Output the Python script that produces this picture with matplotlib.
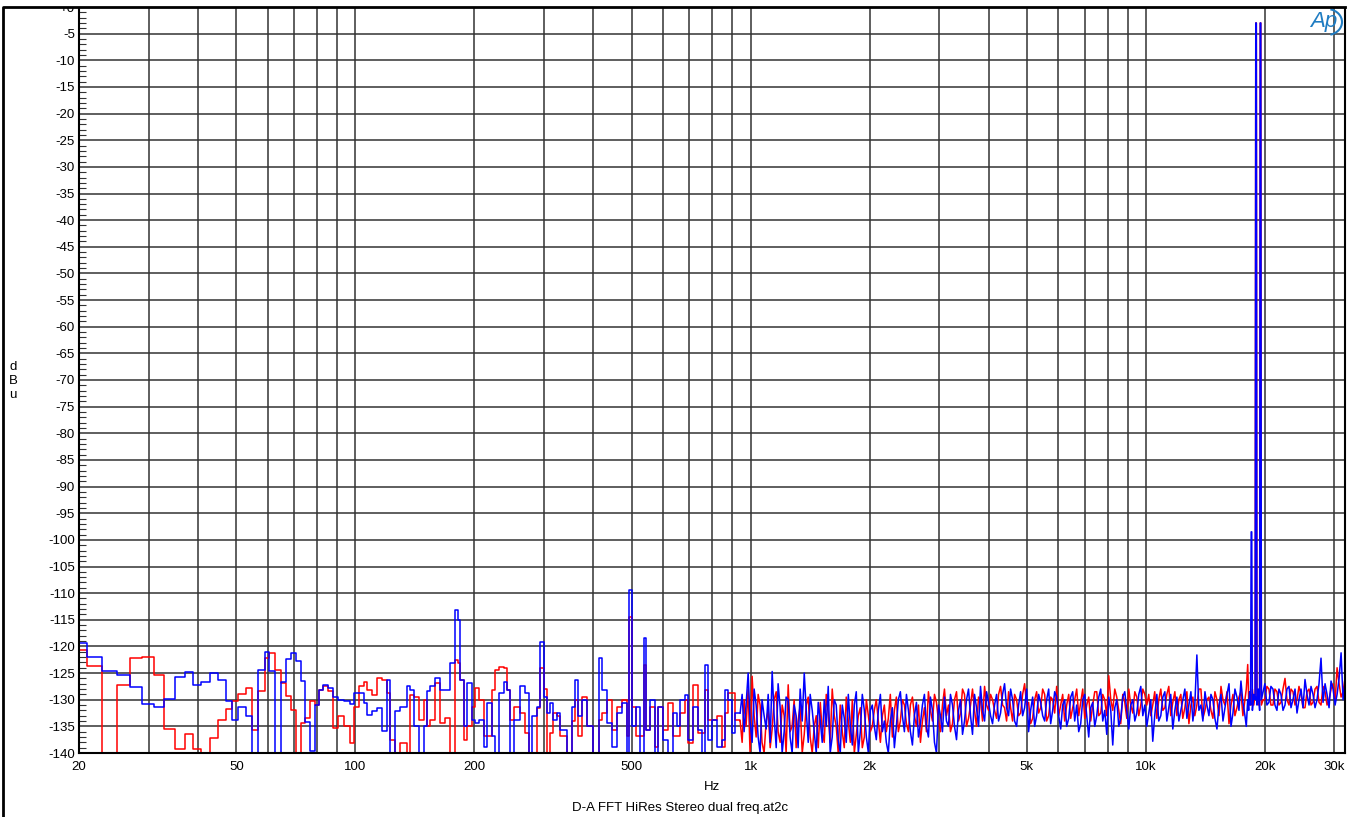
import numpy as np
import matplotlib
matplotlib.use("Agg")
import matplotlib.pyplot as plt
from matplotlib.patches import Rectangle, Arc
from matplotlib.lines import Line2D
from matplotlib.transforms import IdentityTransform
from matplotlib.ticker import FixedLocator, NullFormatter, MultipleLocator

plt.rcParams["font.family"] = ["Liberation Sans", "DejaVu Sans"]

# ------------------------------------------------------------
# Data: FFT spectrum, both channels share the same bins
# ------------------------------------------------------------

# Low band, drawn as steps (start of each bin, last value = end)
freq_lo = [
    20, 20.9, 22.9, 24.9, 26.9, 28.8, 30.9, 32.9, 34.9, 37.0, 38.8, 40.8,
    42.8, 44.9, 47.2, 48.7, 50.5, 53.0, 54.9, 56.7, 59.0, 60.4, 62.6, 65.0,
    66.6, 68.9, 70.9, 73.0, 74.8, 76.6, 78.9, 80.9, 82.8, 85.3, 87.8, 90.4,
    93.9,
    97.1, 99.0, 102.0, 105.0, 107.0, 110.2, 113.4, 116.8, 120.2, 122.6,
    126.2, 130.0, 135.1, 137.7, 140.4, 144.6, 148.9, 151.8, 154.7, 159.3,
    164.0, 168.9, 173.9, 179.0, 181.5, 184.3, 187.9, 191.6, 197.2, 201.1,
    205.0, 211.1, 215.2, 221.6, 226.0, 230.4, 237.2, 241.8, 246.6, 251.4,
    261.4, 269.1, 274.4, 279.8, 288.0, 293.6, 300.5, 305.2, 311.2, 317.2,
    323.5, 329.8, 342.9, 353.1, 360.0, 365.0, 374.3, 385.3, 400.5, 412.4,
    420.5, 432.9, 445.7, 458.8, 472.4, 486.3, 493.9, 501.6, 513.4, 525.5,
    537.9, 544.2, 557.0, 573.5, 584.7, 602.0, 619.8, 638.1, 650.6, 663.4,
    683.0, 696.4, 716.9, 738.1, 752.6, 767.3, 782.4, 797.7, 821.3, 845.5,
    862.1, 879.0, 896.3, 913.8, 941,
]

blue_lo = [
    -119.3, -121.9, -124.7, -125.3, -127.7, -130.8, -131.3, -129.8, -125.8,
    -124.8, -127.2, -126.6, -125.0, -126.3, -130.3, -133.8, -131.3, -133.1,
    -140, -124.4, -121.1, -124.7, -140, -126.6, -122.4, -121.3, -122.8,
    -126.4, -134.1, -139.7, -130.9, -128.1, -127.2, -127.8, -129.4, -130.0,
    -130.3,
    -130.8, -128.8, -128.8, -130.6, -132.8, -132.2, -131.6, -135.9, -126.3,
    -140, -132.2, -131.3, -127.5, -128.1, -135, -140, -135, -128.4, -127.5,
    -125.9, -128.1, -128.1, -123.1, -113.1, -115, -126.3, -135, -126.9,
    -133.8, -134.4, -133.8, -138.8, -130.6, -136.9, -140, -128.8, -126.6,
    -128.1, -140, -133.8, -127.5, -128.8, -140, -133.1, -131.3, -119.2,
    -129.4, -132.5, -130.6, -133.8, -132.5, -135.6, -140, -131.3, -126.3,
    -133.1, -130, -135, -140, -122.2, -128.1, -134.4, -138.8, -132.5,
    -130.6, -140, -109.4, -135, -131.3, -140, -118.4, -135.6, -130, -140,
    -131.3, -137.5, -140, -132.5, -135, -130, -129.1, -137.5, -131.3,
    -135.6, -140, -123.4, -137.5, -133.8, -138.8, -137.5, -128.1, -130,
    -136.3, -132.5, -132.5,
]

red_lo = [
    -120.6, -123.6, -140, -127.2, -122.2, -121.9, -125.3, -135.5, -139.3,
    -136.4, -139.3, -140, -137.2, -133.8, -131.8, -130.3, -128.9, -127.8,
    -135.6, -128.3, -122.2, -121.3, -124.4, -126.9, -129.3, -132.0, -140,
    -134.4, -133.4, -130.3, -130.9, -128.1, -127.5, -128.4, -135.3, -133.1,
    -135.0,
    -138.1, -131.3, -127.5, -126.6, -128.1, -129.1, -125.9, -126.3, -128.8,
    -137.5, -140, -138.1, -140, -129.1, -129.4, -133.8, -130, -135, -133.8,
    -126.9, -134.4, -133.5, -140, -122.5, -123.1, -126.3, -137.5, -135,
    -131.3, -127.8, -130, -136.9, -136.9, -128.1, -124.4, -123.8, -124.1,
    -128.1, -133.8, -131.3, -132.5, -136.3, -140, -140, -131.6, -124,
    -128, -140, -136.3, -132.5, -133.1, -136.9, -140, -134, -130, -136.9,
    -129.4, -135, -140, -133.8, -132.5, -130, -135.6, -131.3, -130,
    -136.9, -114.4, -131.3, -136.9, -136.9, -123.4, -135.6, -131.3, -138.8,
    -131.3, -135.6, -130.6, -136.9, -136.9, -132.5, -130, -138.1, -127.2,
    -136.3, -136.3, -128.1, -133.8, -133.8, -133.1, -138.8, -132.5, -128.8,
    -128.8, -133.8, -134,
]

# High band, drawn as lines
freq_hi = [
    # 1k - 2k
    941, 952, 963, 974, 986, 997, 1009, 1021, 1033, 1045, 1057, 1069, 1082,
    1095, 1108, 1121, 1134, 1147, 1161, 1174, 1188, 1202, 1216, 1230, 1245,
    1259, 1274, 1289, 1304, 1319, 1335, 1351, 1367, 1383, 1399, 1415, 1432,
    1449, 1466, 1483, 1501, 1518, 1536, 1554, 1572, 1590, 1609, 1628, 1647,
    1666, 1686, 1706, 1726, 1746, 1767, 1788, 1809, 1830, 1851, 1873, 1895,
    1917, 1940, 1963, 1986, 2009,
    # 2k - 4k
    2032, 2056, 2080, 2105, 2130, 2155, 2180, 2205, 2231, 2257, 2284, 2311,
    2338, 2365, 2393, 2421, 2450, 2479, 2508, 2537, 2567, 2597, 2628, 2659,
    2690, 2721, 2753, 2785, 2818, 2851, 2885, 2919, 2953, 2988, 3023, 3058,
    3094, 3130, 3167, 3204, 3242, 3280, 3319, 3358, 3397, 3437, 3477, 3518,
    3559, 3601, 3643, 3686, 3729, 3773, 3817, 3862, 3908, 3954, 4000, 4047,
    # 4k - 10k
    4094, 4142, 4191, 4240, 4290, 4340, 4391, 4443, 4495, 4548, 4601, 4655,
    4710, 4765, 4821, 4878, 4935, 4993, 5051, 5111, 5171, 5232, 5293, 5355,
    5418, 5482, 5546, 5611, 5677, 5744, 5811, 5879, 5948, 6018, 6089, 6160,
    6232, 6306, 6380, 6455, 6530, 6607, 6684, 6763, 6842, 6923, 7004, 7086,
    7169, 7253, 7338, 7425, 7512, 7600, 7689, 7779, 7870, 7963, 8056, 8151,
    8246, 8343, 8441, 8540, 8640, 8742, 8844, 8948, 9053, 9159, 9267, 9376,
    9486, 9597, 9710, 9824, 9939, 10054,
    # 10k - 18.3k
    10170, 10290, 10410, 10530, 10660, 10780, 10910, 11040, 11170, 11300,
    11430, 11560, 11700, 11840, 11980, 12120, 12260, 12400, 12550, 12700,
    12850, 13000, 13150, 13300, 13460, 13620, 13780, 13940, 14110, 14270,
    14440, 14610, 14780, 14950, 15130, 15310, 15490, 15670, 15850, 16040,
    16230, 16420, 16610, 16800, 17000, 17200, 17400, 17600, 17810, 17950,
    18100, 18200, 18300,
    # test tones 19k / 19.5k and 18.5k product
    18400, 18470, 18530, 18600, 18750, 18900, 18970, 19030, 19100, 19250,
    19400, 19470, 19530, 19600, 19800,
    # 20k - end
    20000, 20240, 20480, 20720, 20970, 21210, 21460, 21710, 21970, 22230,
    22490, 22750, 23020, 23290, 23560, 23840, 24120, 24400, 24690, 24980,
    25270, 25570, 25870, 26170, 26480, 26790, 27100, 27420, 27740, 28070,
    28400, 28730, 29070, 29410, 29760, 30110, 30460, 30820, 31180, 31540,
    31900,
]

blue_hi = [
    -132.5, -129, -136, -131, -125, -134, -138, -128, -131, -137, -140,
    -130, -133, -135.5, -129, -138, -124.7, -133, -139, -127, -131.5, -140,
    -136, -129.5, -130, -137, -140, -131, -133, -139, -128, -134, -125,
    -132, -138, -129, -132, -136, -140, -130.5, -134, -138, -130, -135,
    -127.5, -140, -137, -130, -131, -137.5, -140, -131, -133.5, -138, -129,
    -135, -138.5, -131, -128.5, -140, -136, -129, -132, -137, -140, -132,
    -131, -135, -137.5, -132, -129, -136, -134, -138, -140, -134,
    -131.5, -139, -135, -130, -128.5, -133, -136, -129, -132, -136,
    -138.5, -133, -130.5, -137, -134.5, -131, -129, -135, -137, -129.5,
    -132, -138, -140, -131, -133, -136, -129.5, -134, -135, -129,
    -131, -135, -137.5, -132, -130, -136.5, -134, -130, -128, -133,
    -136.5, -129, -131.5, -135, -127.5, -132, -134, -128.5, -130.5, -133,
    -134.5, -131, -129, -134, -132.5, -129, -127, -131.5, -133, -128,
    -130, -134, -135, -131, -128.5, -133, -131.5, -128, -136, -132,
    -129.5, -135, -133, -129, -130.5, -133, -134, -130, -128, -134.5,
    -132, -128.5, -129.5, -133, -135.5, -131, -130, -135, -133.5, -129.5,
    -128.5, -134, -131, -136, -134.5, -130, -129, -133, -137, -131.5,
    -130.5, -135, -133, -129.5, -128, -134, -132, -136.5, -129.5, -132,
    -138.5, -131.5, -130, -135, -133.5, -129.5, -128.5, -132, -135.5, -131,
    -130, -134, -132.5, -129, -127.5, -133, -131, -135,
    -132.5, -130, -137.8, -133, -129, -134, -133, -129.5, -128.5, -134,
    -131.5, -129, -135.5, -132, -129.5, -134, -132, -130, -128, -133.5,
    -131, -128.5, -134, -131, -121.6, -132, -131, -134, -128.5, -131,
    -133, -129, -130, -133.5, -135.5, -131, -129, -134, -131.5, -129,
    -127, -135, -132.5, -128, -129.5, -132, -126.5, -130.5, -133, -135,
    -130, -132, -128.5,
    -131, -98.5, -98.5, -132, -129, -130, -3, -3, -131, -128, -132, -3, -3,
    -130, -128.5,
    -127, -131, -130.5, -127.5, -128, -131, -132, -128, -129, -132,
    -131, -128, -127.5, -131.5, -130, -128, -132.5, -130, -128, -131.5,
    -126.2, -129, -131, -127.5, -129, -131.5, -130, -127, -122.2, -130.5,
    -127, -129, -131.5, -126.5, -128, -131, -129, -126, -121.2, -130,
    -127,
]

red_hi = [
    -134, -138, -130, -135, -128, -140, -125.6, -133, -137, -129, -131,
    -138, -140, -134, -132, -139, -135.5, -130, -128.5, -136, -138, -131,
    -133, -140, -127.2, -136, -135, -130, -139, -134, -131, -140, -136.5,
    -131, -129.5, -137, -140, -135, -133, -139, -130.5, -136, -138, -129,
    -132.5, -138, -128, -133, -135, -140, -131, -136, -139, -129.5, -134,
    -138, -130, -140, -136.5, -133, -131.5, -139, -137, -130, -133, -136,
    -135, -132, -130, -134, -138, -133, -131, -136, -133.5, -129,
    -137, -132, -129.5, -136, -134, -130, -131, -134.5, -136, -131,
    -129.5, -133, -135, -131, -138, -134, -131.5, -136, -128.5, -132,
    -134, -129, -130.5, -134, -136, -131, -128, -133, -131, -136,
    -134.5, -130, -128.5, -134, -132.5, -128, -129, -135, -133.5, -131,
    -128, -132, -135, -129.5, -130, -134, -127.5, -131, -132, -129,
    -130, -132, -133.5, -129, -127.5, -131, -131.5, -134, -128.5, -131.5,
    -134, -129, -130, -133, -132.5, -129, -127, -131, -130.5, -134.5,
    -133.5, -130, -128.5, -132.5, -131.5, -128, -129, -134, -133, -129.5,
    -130, -132.5, -127.5, -133, -131, -129, -134, -131, -129, -133.5,
    -131.5, -130, -128, -133, -130.5, -128, -133.5, -131, -129.5, -134,
    -131, -128.5, -128.5, -133, -132.5, -129, -130, -133, -125.5, -130,
    -132, -128, -129.5, -132, -134.5, -129, -130.5, -133.5, -128, -131,
    -132.5, -128.5, -129.5, -133, -131, -128, -129, -131,
    -129, -133, -131, -128.5, -133.5, -130, -128, -132, -131.5, -129,
    -127.5, -133, -130.5, -128.5, -133, -130, -129, -133.5, -131.5, -128.5,
    -134.5, -131, -129.5, -133, -131, -128, -128, -133.5, -132, -130,
    -129.5, -132, -133.5, -128.5, -130, -133, -127.5, -130, -131, -128.5,
    -134.5, -131, -129, -133, -131.5, -129.5, -128.5, -133, -130, -128,
    -123.4, -130, -131,
    -129, -131, -130, -128, -131, -129, -3, -3, -130, -131, -129, -3, -3,
    -131, -130,
    -130, -127.5, -128, -131, -131, -128, -128.5, -131, -130.5, -128,
    -126, -130, -131, -128, -128.5, -131, -130, -127.5, -129, -131.5,
    -131.5, -128.5, -128, -131, -130.5, -128, -127.5, -130.5, -131, -127.5,
    -128.5, -131, -130, -128, -127, -130.5, -124, -127, -129.5, -128.5,
    -126,
]

x_ticks = [20, 50, 100, 200, 500, 1000, 2000, 5000, 10000, 20000, 30000]
x_tick_labels = ["20", "50", "100", "200", "500", "1k", "2k", "5k", "10k",
                 "20k", "30k"]
x_grid = [30, 40, 60, 70, 80, 90, 300, 400, 600, 700, 800, 900,
          3000, 4000, 6000, 7000, 8000, 9000]
y_ticks = list(range(-140, 1, 5))
y_tick_labels = ["+0" if v == 0 else str(v) for v in y_ticks]

# ------------------------------------------------------------
# Figure
# ------------------------------------------------------------

W, H = 1351, 817
fig = plt.figure(figsize=(W / 100, H / 100), dpi=100)
ax = fig.add_axes([79 / W, 64 / H, 1266 / W, 746 / H])

ax.step(freq_lo, red_lo, where="post", color="#ff0000", lw=1.1)
ax.plot(freq_hi, red_hi, color="#ff0000", lw=1.1)
ax.step(freq_lo, blue_lo, where="post", color="#0000ff", lw=1.1)
ax.plot(freq_hi, blue_hi, color="#0000ff", lw=1.1)

ax.set_xscale("log")
ax.set_xlim(20, 31900)
ax.set_ylim(-140, 0)

ax.xaxis.set_major_locator(FixedLocator(x_ticks))
ax.xaxis.set_minor_locator(FixedLocator(x_grid))
ax.set_xticklabels(x_tick_labels)
ax.xaxis.set_minor_formatter(NullFormatter())
ax.tick_params(axis="x", which="both", length=0, pad=6, labelsize=9.5)

ax.set_yticks(y_ticks)
ax.set_yticklabels(y_tick_labels)
ax.yaxis.set_minor_locator(MultipleLocator(1))
ax.tick_params(axis="y", which="major", length=0, pad=3, labelsize=9.5)
ax.tick_params(axis="y", which="minor", direction="in", length=5,
               width=0.8, color="#333333")

ax.xaxis.grid(True, which="both", color="#333333", lw=1.1)
ax.yaxis.grid(True, which="major", color="#333333", lw=1.1)
ax.set_axisbelow(True)

for s in ax.spines.values():
    s.set_linewidth(1.5)
    s.set_color("black")

# Labels
fig.text(9 / W, 1 - 381 / H, "d\nB\nu", fontsize=9.5, ha="left",
         va="center", linespacing=1.25)
fig.text(712 / W, 1 - 787 / H, "Hz", fontsize=9.5, ha="center", va="center")
fig.text(680 / W, 1 - 808 / H, "D-A FFT HiRes Stereo dual freq.at2c",
         fontsize=9.5, ha="center", va="center")

# Ap logo
fig.text(1324 / W, 1 - 22 / H, "Ap", fontsize=16, style="italic",
         color="#1f7cc2", ha="center", va="center")
fig.add_artist(Arc((1327, H - 22), 30, 26, theta1=-75, theta2=75,
                   transform=IdentityTransform(), color="#1f7cc2", lw=1.5))

# Cover above the plot top (clips "+0"), then left and top frame lines
fig.add_artist(Rectangle((0, 1 - 7 / H), 1, 7 / H, transform=fig.transFigure,
                         facecolor="white", edgecolor="none", zorder=5))
fig.add_artist(Line2D([3 / W, 3 / W, 1345 / W], [0, 1 - 7 / H, 1 - 7 / H],
                      transform=fig.transFigure, color="black", lw=2,
                      zorder=6))

fig.savefig("out.png", dpi=100)
